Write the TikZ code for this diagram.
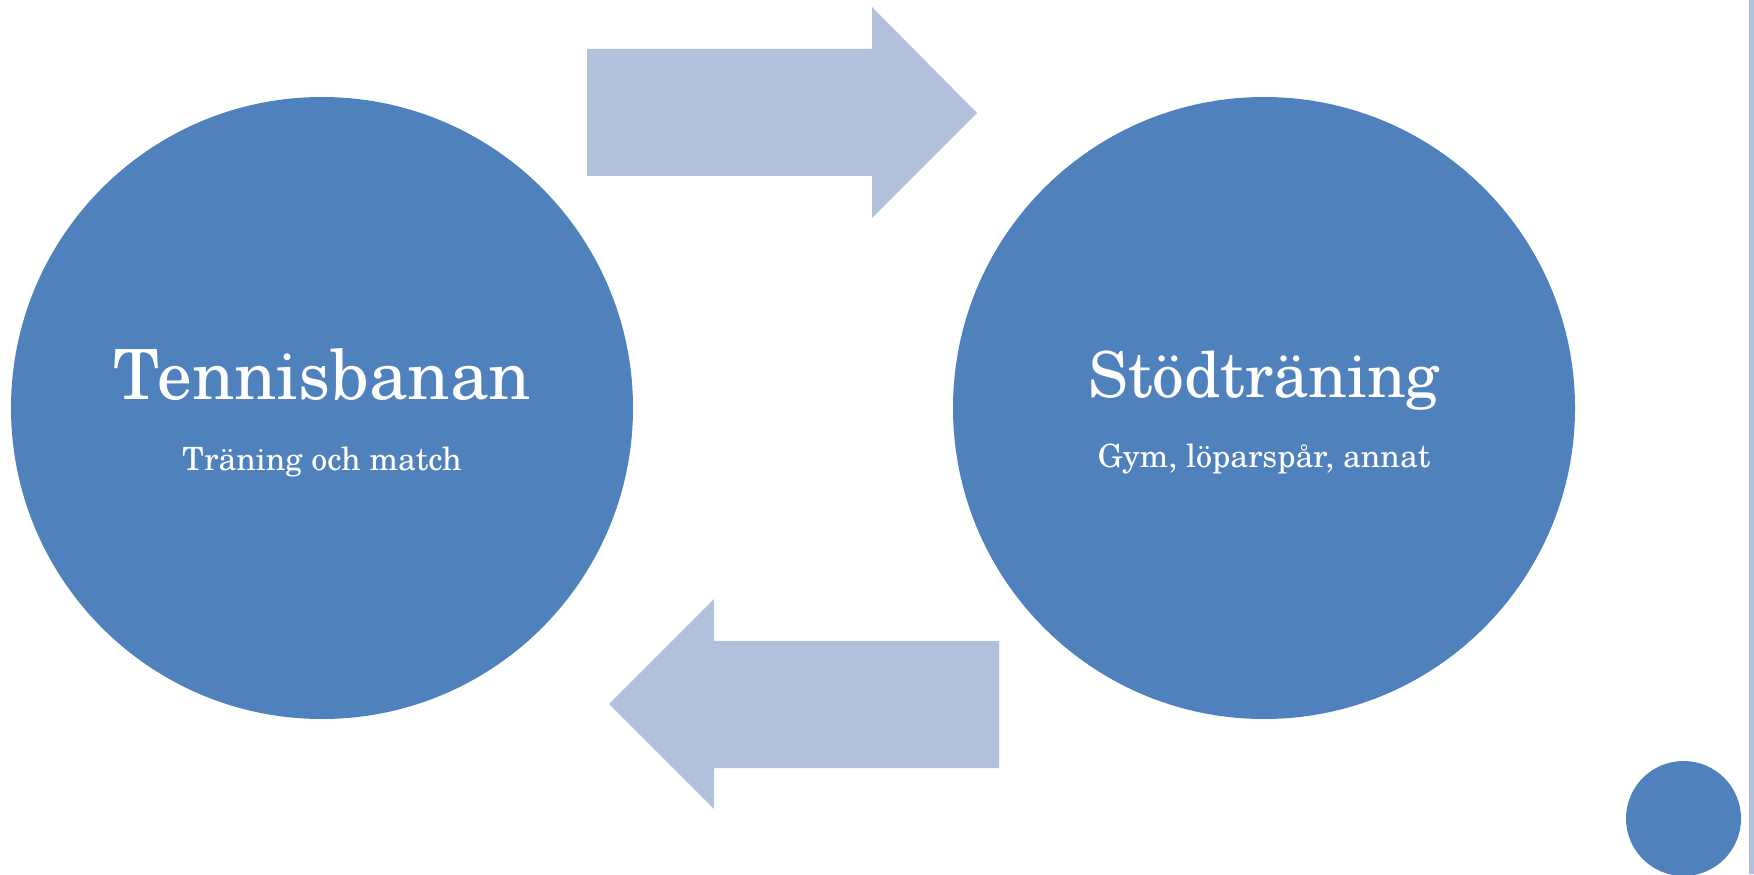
\documentclass[tikz,border=0pt]{standalone}
\usepackage{fontspec}
\setmainfont{TeX Gyre Schola}
\definecolor{blu}{HTML}{4F81BD}
\definecolor{azzurro}{HTML}{B2C1DB}
\tikzset{
  cerchio/.style={circle,fill=blu,inner sep=0pt,minimum size=62.2mm},
  titolo/.style={text=white,anchor=base,font=\fontsize{19.7pt}{24pt}\selectfont},
  sotto/.style={text=white,anchor=base,font=\fontsize{9.1pt}{11pt}\selectfont},
  freccia/.style={fill=azzurro}
}
\begin{document}
\begin{tikzpicture}[x=0.1mm,y=-0.1mm]
\useasboundingbox (0,0) rectangle (1754,874);

%Cerchi
\node[cerchio] (tennis) at (322,408) {};
\node[cerchio] (stod) at (1264,408) {};
\node[circle,fill=blu,inner sep=0pt,minimum size=11.5mm] (punto) at (1683.5,818.5) {};

\node[titolo] (tennistit) at (322,399) {Tennisbanan};
\node[sotto] (tennissub) at (322,470) {Träning och match};
\node[titolo,font=\fontsize{18pt}{22pt}\selectfont] (stodtit) at (1264,397) {Stödträning};
\node[sotto] (stodsub) at (1264,467) {Gym, löparspår, annat};

%Frecce
\fill[freccia] (587,49) -- (872,49) -- (872,7) -- (977,113)
  -- (872,218) -- (872,176) -- (587,176) -- cycle;
\fill[freccia] (999,641) -- (714,641) -- (714,599) -- (609,704)
  -- (714,809) -- (714,768) -- (999,768) -- cycle;

%Bordo
\fill[azzurro] (1749,0) rectangle (1754,874);

\end{tikzpicture}
\end{document}
